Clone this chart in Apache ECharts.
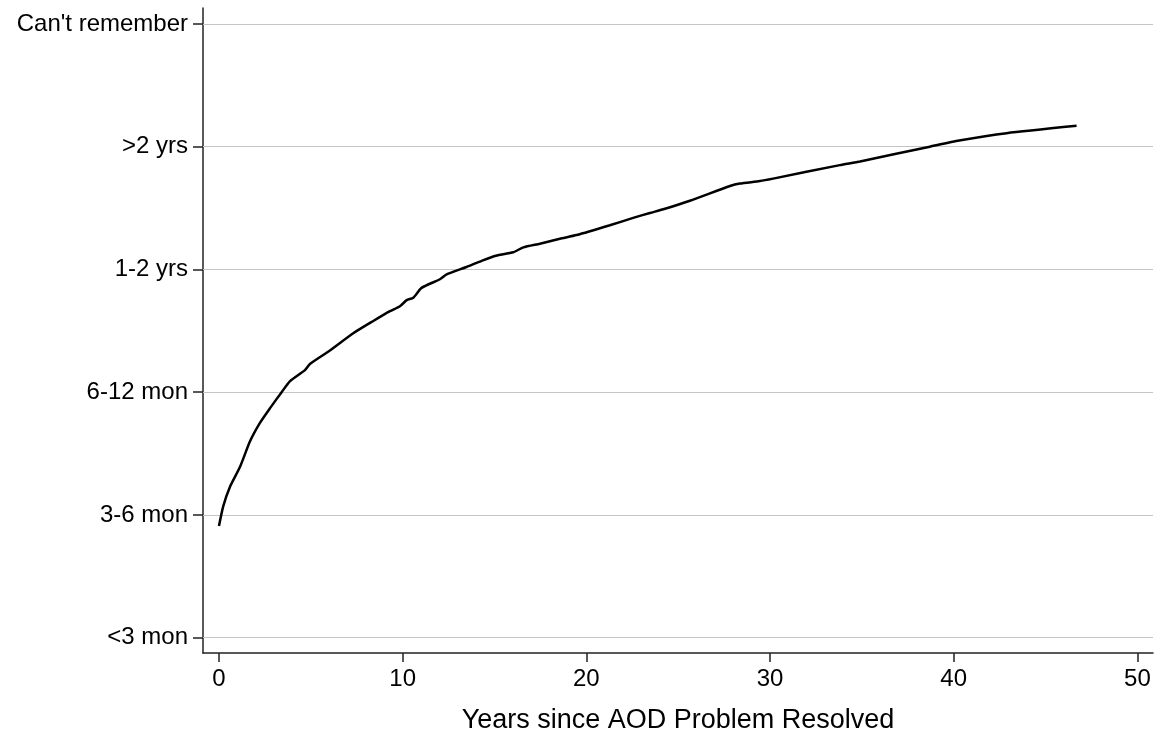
<!DOCTYPE html>
<html>
<head>
<meta charset="utf-8">
<script src="https://cdn.jsdelivr.net/npm/echarts@6/dist/echarts.min.js"></script>
<style>
    html, body { margin: 0; padding: 0; background: #fff; }
    #chart { width: 1162px; height: 735px; }
</style>
</head>
<body>
<div id="chart"></div>
<script>
// recall categories, bottom to top
var levelLabels = ['<3 mon', '3-6 mon', '6-12 mon', '1-2 yrs', '>2 yrs', "Can't remember"];
var levelValues = [0, 1, 2, 3, 4, 5];
var yearTicks = [0, 10, 20, 30, 40, 50];

// fitted curve
var years = [0, 0.23, 0.6, 1.14, 1.69, 2.23, 2.78, 3.41, 3.87, 4.68, 4.95, 6.04, 7.31, 8.4, 9.31,
    9.85, 10.22, 10.58, 11.03, 12.03, 12.39, 13.48, 14.3, 15.02, 16.02, 16.57, 17.47, 18.56, 19.47,
    21.28, 22.55, 23.46, 24.19, 25.64, 27.82, 28.36, 29.45, 30.17, 33.8, 34.9, 38.7, 40.3, 42.88, 46.69];
var level = [0.91, 1.07, 1.23, 1.39, 1.6, 1.75, 1.87, 2.0, 2.09, 2.18, 2.23, 2.34, 2.48, 2.58, 2.66,
    2.7, 2.75, 2.77, 2.85, 2.92, 2.96, 3.02, 3.07, 3.11, 3.14, 3.18, 3.21, 3.25, 3.28,
    3.36, 3.42, 3.46, 3.49, 3.56, 3.68, 3.7, 3.72, 3.74, 3.85, 3.88, 4.0, 4.05, 4.11, 4.17];

var font = '"Liberation Sans", Arial, Helvetica, sans-serif';
var chart = echarts.init(document.getElementById('chart'));

var curve = years.map(function (x, i) {
    return [x, level[i]];
});

var option = {
    animation: false,
    backgroundColor: '#fff',
    grid: {
        left: 203,
        right: 9,
        top: 8,
        bottom: 82,
        outerBoundsMode: 'none'
    },
    xAxis: {
        type: 'value',
        min: -0.87,
        max: 50.85,
        name: 'Years since AOD Problem Resolved',
        nameLocation: 'middle',
        nameGap: 54,
        nameTextStyle: { fontFamily: font, fontSize: 27, color: '#000' },
        axisLine: { show: true, onZero: false, lineStyle: { color: '#222', width: 1.5 } },
        axisTick: { show: true, length: 9, customValues: yearTicks, lineStyle: { color: '#222', width: 1.5 } },
        axisLabel: { customValues: yearTicks, margin: 14, fontFamily: font, fontSize: 24, color: '#000' },
        splitLine: { show: false }
    },
    yAxis: {
        type: 'value',
        min: -0.125,
        max: 5.13,
        axisLine: { show: true, onZero: false, lineStyle: { color: '#222', width: 1.5 } },
        axisTick: { show: true, length: 10, customValues: levelValues, lineStyle: { color: '#222', width: 1.5 } },
        axisLabel: {
            customValues: levelValues,
            margin: 15,
            fontFamily: font,
            fontSize: 24,
            color: '#000',
            formatter: function (v) {
                return levelLabels[Math.round(v)];
            }
        },
        splitLine: { show: false }
    },
    series: [
        {
            type: 'line',
            data: curve,
            showSymbol: false,
            smooth: 0.2,
            lineStyle: { color: '#000', width: 2.5 },
            markLine: {
                silent: true,
                symbol: ['none', 'none'],
                label: { show: false },
                lineStyle: { color: '#c4c4c4', width: 1.2, type: 'solid' },
                z: 1,
                data: levelValues.map(function (v) {
                    return { yAxis: v };
                })
            }
        }
    ]
};

chart.setOption(option);
</script>
</body>
</html>
